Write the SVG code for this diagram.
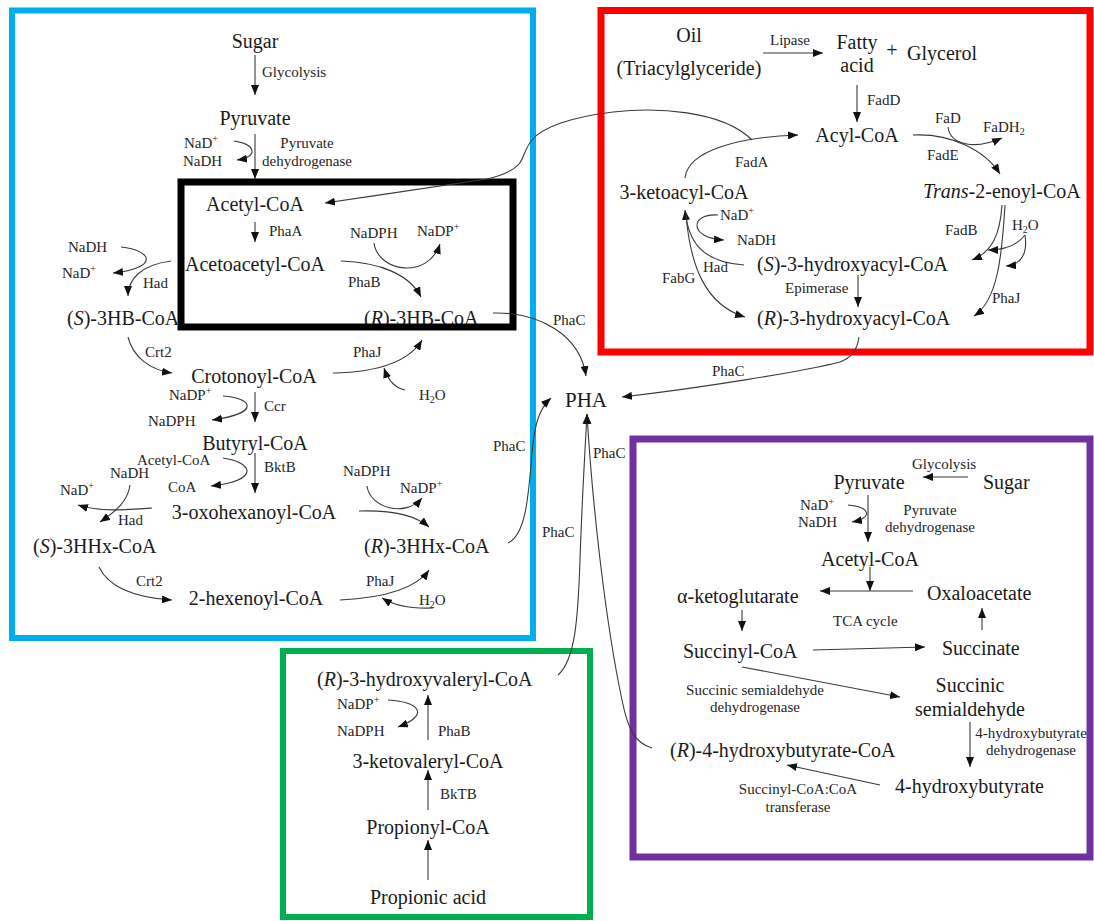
<svg xmlns="http://www.w3.org/2000/svg" width="1094" height="921" viewBox="0 0 1094 921">
<defs>
<marker id="ah" viewBox="0 0 10 8" refX="10" refY="4" markerWidth="10" markerHeight="8" markerUnits="userSpaceOnUse" orient="auto">
<path d="M0,0 L10,4 L0,8 z" fill="#111"/>
</marker>
<style>
text{font-family:"Liberation Serif","Times New Roman",serif;fill:#1a1a1a}
.n{font-size:20px}
.s{font-size:15px;fill:#262626}
.m{text-anchor:middle}
.p{font-size:21px}
.c path,.c line{fill:none;stroke:#3a3a3a;stroke-width:1.1;marker-end:url(#ah)}
.box{fill:none}
</style>
</defs>
<rect width="1094" height="921" fill="#fff"/>

<g id="box-blue"><rect class="box" x="12" y="10.5" width="521" height="627.5" stroke="#00AEEF" stroke-width="6"/></g>
<g id="box-red"><rect class="box" x="601" y="10.5" width="489" height="341.5" stroke="#FF0000" stroke-width="7"/></g>
<g id="box-purple"><rect class="box" x="633" y="439" width="457" height="418" stroke="#7030A0" stroke-width="7"/></g>
<g id="box-green"><rect class="box" x="283" y="651" width="307" height="266" stroke="#00B050" stroke-width="6"/></g>

<!-- Blue section nodes -->
<g id="sugar1"><text class="n m" x="255" y="48">Sugar</text></g>
<g id="pyruvate1"><text class="n m" x="255" y="125">Pyruvate</text></g>
<g id="acetylcoa1"><text class="n m" x="255" y="211">Acetyl-CoA</text></g>
<g id="acetoacetylcoa"><text class="n m" x="255" y="271">Acetoacetyl-CoA</text></g>
<g id="s3hbcoa"><text class="n" x="67" y="325">(<tspan font-style="italic">S</tspan>)-3HB-CoA</text></g>
<g id="r3hbcoa"><text class="n" x="364" y="325">(<tspan font-style="italic">R</tspan>)-3HB-CoA</text></g>
<g id="crotonoylcoa"><text class="n m" x="254" y="383">Crotonoyl-CoA</text></g>
<g id="butyrylcoa"><text class="n m" x="255" y="450">Butyryl-CoA</text></g>
<g id="oxohexanoylcoa"><text class="n m" x="254" y="519">3-oxohexanoyl-CoA</text></g>
<g id="s3hhxcoa"><text class="n" x="33" y="553">(<tspan font-style="italic">S</tspan>)-3HHx-CoA</text></g>
<g id="r3hhxcoa"><text class="n" x="364" y="553">(<tspan font-style="italic">R</tspan>)-3HHx-CoA</text></g>
<g id="hexenoylcoa"><text class="n m" x="256" y="605">2-hexenoyl-CoA</text></g>

<g id="blue-labels">
<text class="s" x="262" y="77">Glycolysis</text>
<text class="s" x="184" y="148">NaD<tspan dy="-6" font-size="10">+</tspan></text>
<text class="s" x="183" y="166">NaDH</text>
<text class="s m" x="307" y="148">Pyruvate</text>
<text class="s m" x="307" y="166">dehydrogenase</text>
<text class="s" x="269" y="236">PhaA</text>
<text class="s" x="350" y="238">NaDPH</text>
<text class="s" x="417" y="236">NaDP<tspan dy="-6" font-size="10">+</tspan></text>
<text class="s" x="68" y="252">NaDH</text>
<text class="s" x="62" y="278">NaD<tspan dy="-6" font-size="10">+</tspan></text>
<text class="s" x="143" y="288">Had</text>
<text class="s" x="348" y="287">PhaB</text>
<text class="s" x="145" y="357">Crt2</text>
<text class="s" x="353" y="357">PhaJ</text>
<text class="s" x="419" y="400">H<tspan dy="3" font-size="10">2</tspan><tspan dy="-3">O</tspan></text>
<text class="s" x="169" y="400">NaDP<tspan dy="-6" font-size="10">+</tspan></text>
<text class="s" x="264" y="411">Ccr</text>
<text class="s" x="148" y="426">NaDPH</text>
<text class="s" x="137" y="465">Acetyl-CoA</text>
<text class="s" x="110" y="478">NaDH</text>
<text class="s" x="168" y="492">CoA</text>
<text class="s" x="264" y="472">BktB</text>
<text class="s" x="60" y="495">NaD<tspan dy="-6" font-size="10">+</tspan></text>
<text class="s" x="118" y="525">Had</text>
<text class="s" x="343" y="476">NaDPH</text>
<text class="s" x="400" y="493">NaDP<tspan dy="-6" font-size="10">+</tspan></text>
<text class="s" x="136" y="586">Crt2</text>
<text class="s" x="366" y="586">PhaJ</text>
<text class="s" x="419" y="605">H<tspan dy="3" font-size="10">2</tspan><tspan dy="-3">O</tspan></text>
<text class="s" x="493" y="451">PhaC</text>
</g>

<g id="box-black"><rect class="box" x="181" y="182" width="332" height="145" stroke="#000" stroke-width="7"/></g>

<!-- PHA -->
<g id="pha"><text class="p m" x="586" y="407">PHA</text></g>
<g id="pha-labels">
<text class="s" x="553" y="325">PhaC</text>
<text class="s" x="593" y="458">PhaC</text>
<text class="s" x="542" y="537">PhaC</text>
<text class="s" x="712" y="376">PhaC</text>
</g>

<!-- Red section -->
<g id="oil"><text class="n m" x="689" y="42">Oil</text><text class="n m" x="689" y="75">(Triacylglyceride)</text></g>
<g id="fattyacid"><text class="n m" x="857" y="49">Fatty</text><text class="n m" x="857" y="72">acid</text></g>
<g id="plus"><text class="n m" x="892" y="57">+</text></g>
<g id="glycerol"><text class="n" x="907" y="60">Glycerol</text></g>
<g id="acylcoa"><text class="n m" x="857" y="142">Acyl-CoA</text></g>
<g id="ketoacylcoa"><text class="n m" x="684" y="199">3-ketoacyl-CoA</text></g>
<g id="trans2enoylcoa"><text class="n" x="923" y="198"><tspan font-style="italic">Trans</tspan>-2-enoyl-CoA</text></g>
<g id="s3hacoa"><text class="n" x="757" y="271">(<tspan font-style="italic">S</tspan>)-3-hydroxyacyl-CoA</text></g>
<g id="r3hacoa"><text class="n" x="757" y="325">(<tspan font-style="italic">R</tspan>)-3-hydroxyacyl-CoA</text></g>
<g id="red-labels">
<text class="s" x="770" y="45">Lipase</text>
<text class="s" x="867" y="105">FadD</text>
<text class="s" x="735" y="167">FadA</text>
<text class="s" x="935" y="123">FaD</text>
<text class="s" x="983" y="132">FaDH<tspan dy="3" font-size="10">2</tspan></text>
<text class="s" x="927" y="160">FadE</text>
<text class="s" x="720" y="220">NaD<tspan dy="-6" font-size="10">+</tspan></text>
<text class="s" x="737" y="245">NaDH</text>
<text class="s" x="945" y="235">FadB</text>
<text class="s" x="1012" y="230">H<tspan dy="3" font-size="10">2</tspan><tspan dy="-3">O</tspan></text>
<text class="s" x="703" y="272">Had</text>
<text class="s" x="662" y="283">FabG</text>
<text class="s" x="785" y="293">Epimerase</text>
<text class="s" x="992" y="303">PhaJ</text>
</g>

<!-- Purple section -->
<g id="pyruvate2"><text class="n m" x="869" y="489">Pyruvate</text></g>
<g id="sugar2"><text class="n" x="983" y="489">Sugar</text></g>
<g id="acetylcoa2"><text class="n m" x="870" y="566">Acetyl-CoA</text></g>
<g id="akg"><text class="n" x="677" y="603">α-ketoglutarate</text></g>
<g id="oxaloacetate"><text class="n" x="927" y="600">Oxaloacetate</text></g>
<g id="succinylcoa"><text class="n" x="683" y="658">Succinyl-CoA</text></g>
<g id="succinate"><text class="n" x="942" y="655">Succinate</text></g>
<g id="ssa"><text class="n m" x="970" y="692">Succinic</text><text class="n m" x="970" y="716">semialdehyde</text></g>
<g id="r4hbcoa"><text class="n" x="670" y="757">(<tspan font-style="italic">R</tspan>)-4-hydroxybutyrate-CoA</text></g>
<g id="hb4"><text class="n" x="895" y="793">4-hydroxybutyrate</text></g>
<g id="purple-labels">
<text class="s" x="912" y="469">Glycolysis</text>
<text class="s" x="800" y="510">NaD<tspan dy="-5" font-size="10">+</tspan></text>
<text class="s" x="798" y="527">NaDH</text>
<text class="s m" x="930" y="515">Pyruvate</text>
<text class="s m" x="930" y="532">dehydrogenase</text>
<text class="s" x="833" y="626">TCA cycle</text>
<text class="s m" x="755" y="695">Succinic semialdehyde</text>
<text class="s m" x="755" y="712">dehydrogenase</text>
<text class="s m" x="1031" y="738">4-hydroxybutyrate</text>
<text class="s m" x="1031" y="755">dehydrogenase</text>
<text class="s m" x="798" y="794">Succinyl-CoA:CoA</text>
<text class="s m" x="798" y="812">transferase</text>
</g>

<!-- Green section -->
<g id="r3hvcoa"><text class="n" x="317" y="686">(<tspan font-style="italic">R</tspan>)-3-hydroxyvaleryl-CoA</text></g>
<g id="ketovalerylcoa"><text class="n m" x="428" y="768">3-ketovaleryl-CoA</text></g>
<g id="propionylcoa"><text class="n m" x="428" y="834">Propionyl-CoA</text></g>
<g id="propionicacid"><text class="n m" x="428" y="904">Propionic acid</text></g>
<g id="green-labels">
<text class="s" x="337" y="709">NaDP<tspan dy="-6" font-size="10">+</tspan></text>
<text class="s" x="337" y="736">NaDPH</text>
<text class="s" x="438" y="736">PhaB</text>
<text class="s" x="440" y="799">BkTB</text>
</g>

<g id="connectors" class="c">
<line x1="255" y1="55" x2="255" y2="95"/>
<path d="M 234 141 C 256 144 259 157 237 160"/>
<line x1="255" y1="134" x2="255" y2="179"/>
<path d="M 752 140 C 722 110 655 107 613 112 C 572 117 542 127 532 140 C 524 150 524 158 519 164 C 512 172 500 176 487 179 C 440 186 380 195 325 203"/>
<line x1="255" y1="222" x2="255" y2="242"/>
<path d="M 121 247 C 152 250 160 268 113 273"/>
<path d="M 171 261 C 140 265 128 280 128 296"/>
<path d="M 341 261 C 380 262 410 275 421 297"/>
<path d="M 374 243 C 378 272 428 280 440 244"/>
<path d="M 128 337 C 133 357 150 370 172 373"/>
<path d="M 333 373 C 380 372 410 360 422 340"/>
<path d="M 405 390 C 395 388 388 380 384 368"/>
<line x1="255" y1="392" x2="255" y2="422"/>
<path d="M 223 396 C 252 398 262 413 212 420"/>
<line x1="255" y1="453" x2="255" y2="493"/>
<path d="M 223 458 C 252 462 262 480 211 486"/>
<path d="M 130 485 C 128 500 118 510 100 522"/>
<path d="M 152 508 C 125 510 100 512 78 505"/>
<path d="M 367 486 C 370 508 405 518 422 498"/>
<path d="M 359 511 C 390 510 415 515 429 527"/>
<path d="M 99 567 C 110 590 140 598 172 600"/>
<path d="M 340 600 C 380 598 415 590 429 570"/>
<path d="M 433 608 C 410 609 395 606 382 598"/>
<path d="M 493 313 C 540 312 580 335 586 376"/>
<path d="M 508 543 C 525 535 528 500 531 465 C 534 425 538 410 551 398"/>
<path d="M 859 337 C 857 352 850 358 840 362 C 800 372 700 388 622 397"/>
<path d="M 558 675 C 575 660 578 620 580 560 C 582 500 585 450 587 414"/>
<path d="M 652 748 C 635 743 628 730 622 700 C 605 620 592 500 587 414"/>
<line x1="763" y1="53" x2="823" y2="53"/>
<line x1="857" y1="85" x2="857" y2="122"/>
<path d="M 685 178 C 688 150 740 137 798 135"/>
<path d="M 913 135 C 950 133 985 150 1000 174"/>
<path d="M 948 127 C 950 145 975 150 1002 138"/>
<path d="M 744 265 C 700 262 688 240 685 210"/>
<path d="M 718 215 C 690 213 688 238 724 240"/>
<path d="M 686 214 C 690 265 705 305 745 317"/>
<line x1="858" y1="275" x2="858" y2="307"/>
<path d="M 1002 205 C 1000 235 992 252 972 260"/>
<path d="M 1025 235 C 1015 248 1000 250 988 250"/>
<path d="M 1025 235 C 1028 255 1020 265 1006 266"/>
<path d="M 1005 205 C 1002 255 998 300 974 316"/>
<line x1="968" y1="477" x2="923" y2="477"/>
<line x1="868" y1="495" x2="868" y2="542"/>
<path d="M 848 505 C 871 507 873 518 852 522"/>
<line x1="870" y1="567" x2="870" y2="591"/>
<line x1="913" y1="591" x2="820" y2="591"/>
<line x1="742" y1="610" x2="742" y2="631"/>
<line x1="982" y1="630" x2="982" y2="608"/>
<line x1="813" y1="650" x2="925" y2="647"/>
<line x1="742" y1="667" x2="900" y2="697"/>
<line x1="970" y1="722" x2="970" y2="767"/>
<line x1="880" y1="785" x2="787" y2="765"/>
<path d="M 388 700 C 420 702 430 715 398 727"/>
<line x1="428" y1="740" x2="428" y2="695"/>
<line x1="428" y1="810" x2="428" y2="770"/>
<line x1="428" y1="880" x2="428" y2="840"/>
</g>
</svg>
